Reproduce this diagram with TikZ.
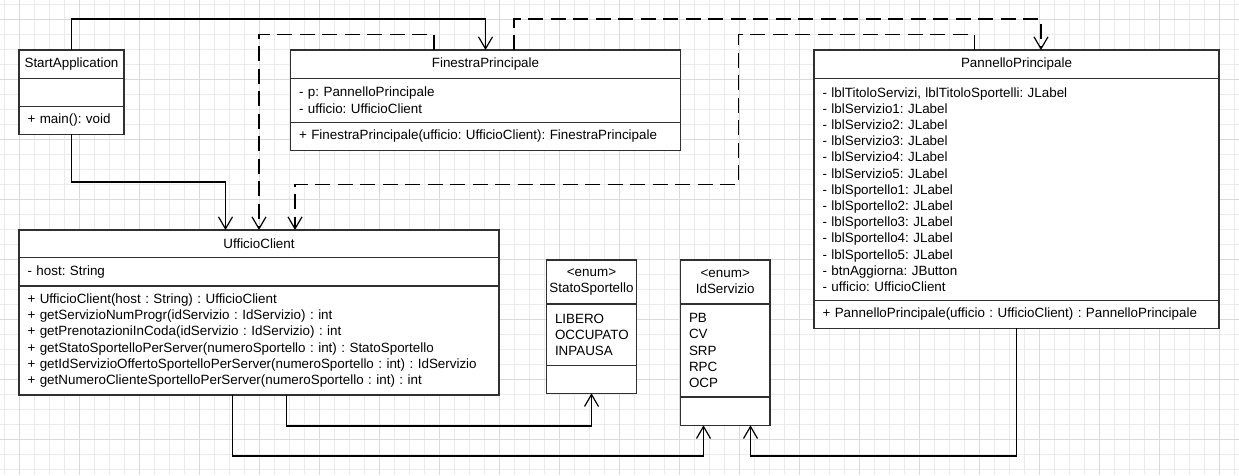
\documentclass[tikz,border=0pt]{standalone}
\usepackage{fontspec}
\setmainfont{Liberation Sans}
\usetikzlibrary{positioning,arrows.meta}
\frenchspacing

\definecolor{boxgray}{HTML}{303030}
\definecolor{minorgray}{HTML}{EBEBEB}
\definecolor{majorgray}{HTML}{DADADA}

\tikzset{
  clshead/.style={draw=boxgray, line width=1.5pt, fill=white, inner sep=0pt, outer sep=0pt,
    minimum height=28.3pt, align=center, anchor=north west},
  clsbody/.style={draw=boxgray, line width=1.5pt, fill=white, inner xsep=8.5pt, inner ysep=0pt,
    outer sep=0pt, align=left},
  assoc/.style={line width=1.2pt, -{Straight Barb[length=12pt,width=14pt]}},
  dep/.style={assoc, dash pattern=on 15pt off 7.5pt},
}

\begin{document}
\begin{tikzpicture}[x=1pt, y=-1pt, font=\fontsize{13.4}{16.2}\selectfont]
\useasboundingbox (0,0) rectangle (1239,475);
\fill[white] (0,0) rectangle (1239,475);
\draw[minorgray, line width=1pt, step=15pt, xshift=4pt, yshift=-4pt] (-4,-4) grid (1235,471);
\draw[majorgray, line width=1pt, step=60pt, xshift=19pt, yshift=-19pt] (-19,-19) grid (1220,456);

% StartApplication
\node[clshead, minimum width=105pt] (sa) at (19,50) {StartApplication};
\node[clsbody, text width=88pt, minimum height=28.4pt, below=0pt of sa] (sa-attr) {};
\node[clsbody, text width=88pt, minimum height=27.6pt, below=0pt of sa-attr] (sa-ops) {+ main(): void};

% FinestraPrincipale
\node[clshead, minimum width=390pt] (fp) at (290.5,50) {FinestraPrincipale};
\node[clsbody, text width=373pt, minimum height=44pt, below=0pt of fp] (fp-attr)
  {- p: PannelloPrincipale\\- ufficio: UfficioClient};
\node[clsbody, text width=373pt, minimum height=28.4pt, below=0pt of fp-attr] (fp-ops)
  {+ FinestraPrincipale(ufficio: UfficioClient): FinestraPrincipale};

% PannelloPrincipale
\node[clshead, minimum width=405pt] (pp) at (814,50) {PannelloPrincipale};
\node[clsbody, text width=388pt, minimum height=222.4pt, below=0pt of pp] (pp-attr)
  {- lblTitoloServizi, lblTitoloSportelli: JLabel\\
   - lblServizio1: JLabel\\- lblServizio2: JLabel\\- lblServizio3: JLabel\\
   - lblServizio4: JLabel\\- lblServizio5: JLabel\\
   - lblSportello1: JLabel\\- lblSportello2: JLabel\\- lblSportello3: JLabel\\
   - lblSportello4: JLabel\\- lblSportello5: JLabel\\
   - btnAggiorna: JButton\\- ufficio: UfficioClient};
\node[clsbody, text width=388pt, minimum height=27.6pt, below=0pt of pp-attr] (pp-ops)
  {+ PannelloPrincipale(ufficio : UfficioClient) : PannelloPrincipale};

% UfficioClient
\node[clshead, minimum width=480pt, minimum height=27.7pt] (uc) at (19,230) {UfficioClient};
\node[clsbody, text width=463pt, minimum height=28.3pt, below=0pt of uc] (uc-attr) {- host: String};
\node[clsbody, text width=463pt, minimum height=109pt, below=0pt of uc-attr] (uc-ops)
  {+ UfficioClient(host : String) : UfficioClient\\
   + getServizioNumProgr(idServizio : IdServizio) : int\\
   + getPrenotazioniInCoda(idServizio : IdServizio) : int\\
   + getStatoSportelloPerServer(numeroSportello : int) : StatoSportello\\
   + getIdServizioOffertoSportelloPerServer(numeroSportello : int) : IdServizio\\
   + getNumeroClienteSportelloPerServer(numeroSportello : int) : int};

% enums
\node[clshead, minimum width=90pt, minimum height=44pt] (ss) at (546.5,260) {<enum>\\StatoSportello};
\node[clsbody, text width=73pt, minimum height=61.3pt, below=0pt of ss] (ss-vals)
  {LIBERO\\OCCUPATO\\INPAUSA};
\node[clsbody, text width=73pt, minimum height=28pt, below=0pt of ss-vals] (ss-ops) {};

\node[clshead, minimum width=89.5pt, minimum height=44pt] (ids) at (680.5,260) {<enum>\\IdServizio};
\node[clsbody, text width=72.5pt, minimum height=93pt, below=0pt of ids] (ids-vals)
  {PB\\CV\\SRP\\RPC\\OCP};
\node[clsbody, text width=72.5pt, minimum height=28.3pt, below=0pt of ids-vals] (ids-ops) {};

% connectors
\draw[assoc] (sa.north) -- ++(0,-31) -| (fp.north);
\draw[assoc] (sa-ops.south) -- ++(0,47.7) -| ([xshift=206.5pt]uc.north west);
\draw[dep] ([xshift=143.5pt]fp.north west) -- ++(0,-15.7) -| (uc.north);
\draw[dep] ([xshift=223.5pt]fp.north west) -- ++(0,-31) -| ([xshift=227pt]pp.north west);
\draw[dep] ([xshift=160.5pt]pp.north west) -- ++(0,-15.7) -- ++(-235.7,0) -- ++(0,150)
  -| ([xshift=276pt]uc.north west);
\draw[assoc] ([xshift=267.5pt]uc-ops.south west) -- ++(0,31) -| (ss-ops.south);
\draw[assoc] ([xshift=213.5pt]uc-ops.south west) -- ++(0,61) -| ([xshift=23pt]ids-ops.south west);
\draw[assoc] (pp-ops.south) -- ++(0,127.7) -| ([xshift=70pt]ids-ops.south west);
\end{tikzpicture}
\end{document}
